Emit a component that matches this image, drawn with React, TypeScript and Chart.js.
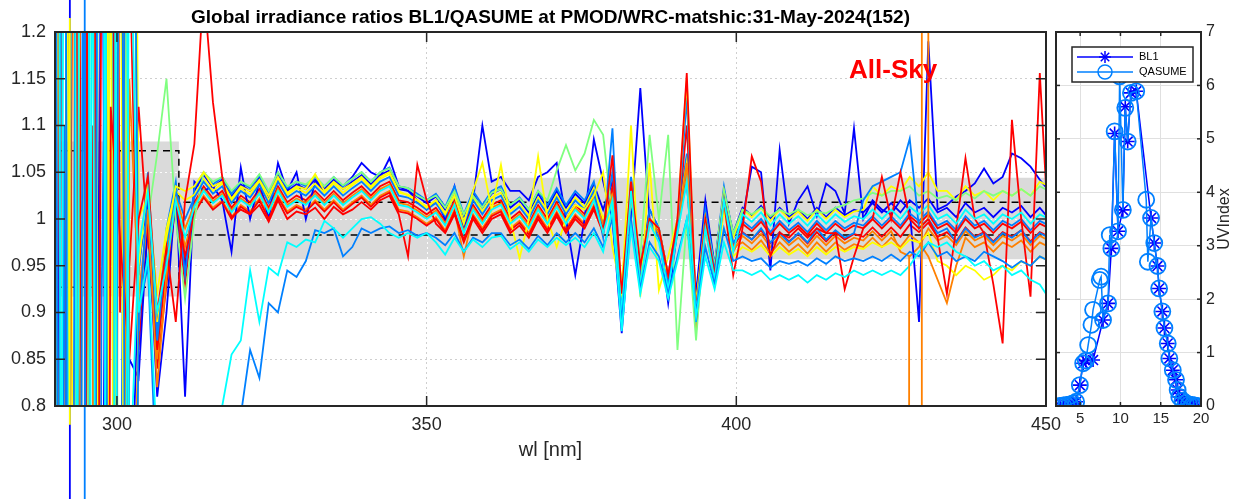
import React, { useEffect, useRef } from 'react';
import { Chart, registerables } from 'chart.js';
Chart.register(...registerables);

// ---------------- main panel data ----------------
const wl = [290,291.5,293,294.5,296,297.5,299,300.5,302,303.5,305,306.5,308,309.5,311,312.5,314,315.5,317,318.5,320,321.5,323,324.5,326,327.5,329,330.5,332,333.5,335,336.5,338,339.5,341,342.5,344,345.5,347,348.5,350,351.5,353,354.5,356,357.5,359,360.5,362,363.5,365,366.5,368,369.5,371,372.5,374,375.5,377,378.5,380,381.5,383,384.5,386,387.5,389,390.5,392,393.5,395,396.5,398,399.5,401,402.5,404,405.5,407,408.5,410,411.5,413,414.5,416,417.5,419,420.5,422,423.5,425,426.5,428,429.5,431,432.5,434,435.5,437,438.5,440,441.5,443,444.5,446,447.5,449,450.5];

const blue1 = [2.5,-1.5,3.2,-0.6,2.1,0.4,1.9,-0.2,0.85,0.83,1.0,0.81,
0.9,1.03,0.81,1.04,1.03,1.035,1.02,0.965,1.055,1.0,1.04,1.0,
1.06,1.03,1.05,1.0,1.04,1.03,1.04,1.035,1.045,1.06,1.05,1.045,
1.065,1.035,1.03,1.02,1.01,1.02,1.0,1.035,0.99,1.02,1.1,1.04,
1.045,1.03,1.03,1.02,1.045,1.05,1.06,1.0,0.94,1.0,1.085,1.04,
1.0,0.878,1.0,1.14,1.0,0.985,0.91,0.99,1.06,0.92,1.02,0.95,
1.02,0.97,1.0,1.056,1.05,0.945,1.074,0.995,1.02,1.035,1.003,1.038,
1.03,1.006,1.097,1.0,1.02,1.01,1.005,1.02,1.01,0.89,1.19,1.01,
1.015,1.024,1.03,1.038,1.054,1.038,1.045,1.07,1.065,1.056,1.042,1.03];

const blue2 = [-1.2,3.5,-0.8,2.6,-1.5,1.6,-0.4,2.8,0.6,0.95,1.02,0.86,
0.98,1.035,0.95,1.03,1.047,1.034,1.042,1.024,1.037,1.03,1.044,1.024,
1.047,1.03,1.037,1.032,1.042,1.032,1.042,1.032,1.04,1.047,1.037,1.047,
1.052,1.032,1.03,1.024,1.017,1.024,1.01,1.032,1.002,1.027,1.012,1.027,
1.032,1.012,1.02,1.007,1.027,1.012,1.03,1.012,1.027,1.017,1.037,1.01,
1.04,0.92,1.03,0.95,1.01,0.99,0.94,0.995,1.04,0.91,1.005,0.95,
1.03,0.985,1.012,1.004,1.014,1.0,1.012,1.002,1.01,1.0,1.012,1.002,
1.012,1.004,1.01,1.007,1.017,1.007,1.017,1.007,1.02,1.012,1.022,1.007,
1.012,1.002,1.017,1.007,1.012,1.002,1.012,1.007,1.014,1.002,1.012,1.0];

const azure1 = [-0.5,2.2,-3,1.4,-0.9,3.3,-1,1.8,-0.3,0.9,0.95,0.7,
0.6,0.55,0.5,0.55,0.6,0.65,0.7,0.75,0.79,0.86,0.83,0.91,
0.9,0.945,0.938,0.955,0.988,0.985,0.99,0.96,0.97,0.99,0.985,0.99,
0.992,0.985,0.988,0.982,0.985,0.98,0.972,0.985,0.965,0.98,0.975,0.985,
0.985,0.972,0.978,0.968,0.982,0.972,0.985,0.975,0.985,0.975,0.99,0.97,
1.0,0.89,1.0,0.925,0.975,0.96,0.92,0.96,1.0,0.9,0.97,0.93,
0.99,0.955,0.96,0.955,0.958,0.948,0.955,0.952,0.955,0.95,0.958,0.952,
0.96,0.955,0.958,0.955,0.96,0.955,0.962,0.955,0.965,0.96,0.975,0.96,
0.965,0.955,0.96,0.955,0.965,0.96,0.955,0.948,0.955,0.95,0.96,0.955];

const azure2 = [1.9,-2.5,0.7,3.9,-0.2,2.4,-1.7,0.5,2.0,0.88,1.035,0.87,
0.97,1.03,1.0,1.023,1.04,1.027,1.035,1.017,1.03,1.023,1.037,1.017,
1.04,1.023,1.03,1.025,1.035,1.025,1.035,1.025,1.033,1.04,1.03,1.04,
1.045,1.025,1.023,1.017,1.01,1.017,1.003,1.025,0.995,1.02,1.005,1.02,
1.025,1.005,1.013,1.0,1.02,1.005,1.023,1.005,1.02,1.01,1.03,0.98,
1.097,0.9,1.04,0.945,1.0,0.98,0.93,0.99,1.13,0.89,1.0,0.945,
1.02,0.975,0.985,0.978,0.99,0.975,0.985,0.975,0.985,0.975,0.99,0.978,
0.988,0.98,0.985,1.02,1.035,1.04,1.045,1.05,1.086,0.99,1.0,0.985,
0.99,0.975,0.99,0.98,0.985,0.975,0.985,0.98,0.988,0.975,0.985,0.98];

const azure3 = [-3.0,1.1,-0.6,2.4,-2.7,0.9,1.7,-2.0,1.9,0.94,1.05,0.88,
0.99,1.04,0.94,1.033,1.05,1.037,1.045,1.027,1.04,1.033,1.047,1.027,
1.05,1.033,1.04,1.035,1.045,1.035,1.045,1.035,1.043,1.05,1.04,1.05,
1.055,1.035,1.033,1.027,1.02,1.027,1.013,1.035,1.005,1.03,1.015,1.03,
1.035,1.015,1.023,1.01,1.03,1.015,1.033,1.015,1.03,1.02,1.04,0.99,
1.05,0.91,1.045,0.94,1.01,0.99,0.94,1.0,1.07,0.9,1.01,0.95,
1.035,0.98,0.998,0.99,1.0,0.986,0.998,0.988,0.996,0.986,0.998,0.988,
0.998,0.99,0.996,0.993,1.003,0.993,1.003,0.993,1.006,0.998,1.008,0.993,
0.998,0.988,1.003,0.993,0.998,0.988,0.998,0.993,1.0,0.988,0.998,0.993];

const cyan1 = [3.0,-0.7,2.0,-2.2,1.5,-1.1,3.6,-0.8,1.4,0.9,0.96,0.75,
0.7,0.68,0.65,0.7,0.72,0.75,0.8,0.855,0.87,0.945,0.89,0.948,
0.94,0.975,0.97,0.978,0.975,0.998,0.99,0.98,0.99,1.0,1.002,0.995,
0.985,0.98,0.985,0.98,0.985,0.975,0.962,0.98,0.965,0.978,0.97,0.98,
0.982,0.968,0.975,0.965,0.978,0.97,0.98,0.972,0.98,0.97,0.985,0.965,
1.01,0.88,0.99,0.92,0.97,0.955,0.915,0.955,1.0,0.895,0.96,0.925,
0.975,0.945,0.945,0.94,0.945,0.935,0.94,0.935,0.94,0.932,0.94,0.935,
0.942,0.938,0.945,0.94,0.945,0.94,0.945,0.94,0.95,0.965,0.975,0.97,
0.975,0.965,0.96,0.95,0.955,0.945,0.95,0.94,0.945,0.935,0.93,0.915];

const cyan2 = [-2.0,1.7,-1.0,2.9,0.3,1.9,-0.6,3.1,0.7,0.97,1.03,0.9,
0.95,1.02,0.98,1.013,1.03,1.017,1.025,1.007,1.02,1.013,1.027,1.007,
1.03,1.013,1.02,1.015,1.025,1.015,1.025,1.015,1.023,1.03,1.02,1.03,
1.035,1.015,1.013,1.007,1.0,1.007,0.993,1.015,0.985,1.01,0.995,1.01,
1.015,0.995,1.003,0.99,1.01,0.995,1.013,0.995,1.01,1.0,1.02,0.985,
1.02,0.9,1.03,0.93,0.995,0.975,0.925,0.985,1.04,0.9,0.99,0.935,
1.02,0.965,1.005,0.997,1.007,0.993,1.005,0.995,1.003,0.993,1.005,0.995,
1.005,0.997,1.003,1.0,1.01,1.0,1.01,1.0,1.013,1.005,1.015,1.0,
1.005,0.995,1.01,1.0,1.005,0.995,1.005,1.0,1.007,0.995,1.005,1.0];

const green1 = [1.3,-1.4,2.7,-0.4,1.8,-2.1,2.3,0.2,1.7,0.97,1.0,1.07,
1.15,1.0,0.915,1.0,1.05,1.04,1.045,1.03,1.04,1.035,1.048,1.03,
1.05,1.035,1.04,1.037,1.046,1.035,1.045,1.036,1.043,1.05,1.04,1.05,
1.054,1.035,1.033,1.025,1.02,1.025,1.012,1.03,1.005,1.025,1.012,1.028,
1.032,1.015,1.022,1.01,1.03,1.02,1.052,1.079,1.052,1.07,1.106,1.09,
1.0,0.93,1.02,0.96,1.09,1.0,1.09,0.86,1.0,0.87,1.0,0.95,
1.03,0.985,1.01,1.005,1.012,1.003,1.01,1.005,1.01,1.004,1.008,1.006,
1.012,1.015,1.02,1.022,1.028,1.025,1.03,1.03,1.035,1.025,1.03,1.022,
1.025,1.02,1.028,1.022,1.03,1.025,1.03,1.025,1.032,1.025,1.035,1.03];

const yellow1 = [-0.9,2.6,0.5,1.6,-1.8,3.5,0.1,1.5,-0.6,0.95,1.04,0.89,
0.98,1.035,1.03,1.035,1.05,1.035,1.04,1.022,1.035,1.03,1.042,1.025,
1.045,1.028,1.035,1.032,1.048,1.03,1.04,1.032,1.038,1.045,1.035,1.045,
1.05,1.03,1.025,1.02,1.012,1.02,1.005,1.025,0.995,1.03,1.06,1.01,
1.058,1.0,0.958,1.0,1.067,1.0,0.97,1.0,1.015,1.01,1.025,1.05,
0.97,0.92,1.1,0.917,1.06,0.924,0.96,1.0,1.15,0.9,1.0,0.93,
1.01,0.96,0.97,0.965,0.972,0.96,0.97,0.962,0.968,0.96,0.97,0.962,
0.97,0.965,0.97,0.968,0.975,0.97,0.975,0.968,0.978,0.975,0.985,0.955,
0.95,0.94,0.95,0.945,0.935,0.94,0.95,0.945,0.955,0.95,0.96,0.955];

const yellow2 = [0.6,3.0,-1.6,1.2,2.5,-0.3,1.4,-1.3,2.4,1.0,1.025,0.92,
0.99,1.03,1.02,1.026,1.043,1.03,1.038,1.02,1.033,1.026,1.04,1.02,
1.043,1.026,1.033,1.028,1.038,1.028,1.038,1.028,1.036,1.043,1.033,1.043,
1.048,1.028,1.026,1.02,1.013,1.02,1.006,1.028,0.998,1.023,1.008,1.023,
1.028,1.008,1.016,1.003,1.023,1.008,1.026,1.008,1.023,1.013,1.033,1.0,
1.03,0.93,1.04,0.95,1.0,0.99,0.94,0.995,1.06,0.91,1.0,0.945,
1.03,0.98,1.01,1.002,1.012,0.998,1.01,1.0,1.008,0.998,1.01,1.0,
1.01,1.002,1.008,1.01,1.035,1.025,1.035,1.03,1.045,1.035,1.05,1.03,
1.03,1.02,1.035,1.025,1.03,1.02,1.03,1.025,1.032,1.025,1.04,1.035];

const orange1 = [-1.6,0.9,2.1,-1.0,3.4,-0.7,2.6,-1.5,1.15,0.92,1.0,0.85,
0.96,1.02,0.97,1.008,1.025,1.012,1.02,1.002,1.015,1.008,1.022,1.002,
1.025,1.008,1.015,1.01,1.02,1.01,1.02,1.01,1.018,1.025,1.015,1.025,
1.03,1.01,1.008,1.002,0.995,1.002,0.988,1.01,0.96,1.005,0.99,1.005,
1.01,0.99,0.998,0.985,1.005,0.99,1.008,0.99,1.005,0.995,1.015,0.99,
1.02,0.91,1.03,0.935,0.995,0.98,0.93,0.985,1.05,0.88,0.99,0.935,
1.02,0.965,0.982,0.974,0.984,0.97,0.982,0.972,0.98,0.97,0.982,0.972,
0.982,0.974,0.98,0.977,0.987,0.977,0.987,0.965,0.96,0.97,0.99,0.977,
0.982,0.972,0.987,0.977,0.982,0.972,0.982,0.977,0.984,0.972,0.982,0.977];

const orange2 = [2.2,-0.3,1.5,-2.6,0.6,2.9,-0.9,1.6,0.4,0.9,1.01,0.82,
0.94,1.025,0.99,1.015,1.032,1.019,1.027,1.009,1.022,1.015,1.029,1.009,
1.032,1.015,1.022,1.017,1.027,1.017,1.027,1.017,1.025,1.032,1.022,1.032,
1.037,1.017,1.015,1.009,1.002,1.009,0.995,1.017,0.987,1.012,0.997,1.012,
1.017,0.997,1.005,0.992,1.012,0.997,1.015,0.997,1.012,1.002,1.022,0.995,
1.025,0.915,1.03,0.94,1.0,0.985,0.935,0.99,1.06,0.89,0.995,0.94,
1.02,0.97,0.975,0.967,0.977,0.963,0.975,0.965,0.973,0.963,0.975,0.965,
0.975,0.967,0.973,0.97,0.98,0.97,0.98,0.97,0.983,0.975,0.96,0.935,
0.91,0.95,0.98,0.97,0.975,0.965,0.975,0.97,0.977,0.965,0.975,0.97];

const red1 = [3.8,-1.2,1.9,-0.1,2.7,-1.9,1.12,0.98,0.85,1.0,1.045,0.9,
0.97,0.89,1.02,1.08,1.25,1.125,1.045,1.002,1.01,1.005,1.015,0.997,
1.02,1.0,1.008,1.005,1.012,1.0,1.013,1.005,1.01,1.018,1.01,1.02,
1.025,1.005,0.96,1.058,1.02,0.995,0.985,1.005,0.975,1.0,0.985,1.0,
1.005,0.985,0.993,0.98,1.0,0.985,1.003,0.985,1.0,0.99,1.01,0.985,
1.068,0.92,1.04,0.95,1.0,0.99,0.94,1.0,1.156,0.9,1.0,0.94,
1.02,0.94,0.99,1.067,1.04,0.96,0.985,0.98,0.99,0.98,0.99,0.985,
0.985,0.925,0.96,0.99,1.0,1.045,1.0,1.05,1.0,0.99,1.0,0.98,
0.92,0.99,1.065,1.0,0.985,0.93,0.867,1.106,1.0,0.917,1.156,0.975];

const red2 = [-0.4,2.0,-2.4,3.1,-0.8,1.3,2.2,-0.6,0.95,1.12,0.98,0.86,
0.95,1.02,0.96,1.006,1.023,1.01,1.018,1.0,1.013,1.006,1.02,1.0,
1.023,1.006,1.013,1.008,1.018,1.008,1.018,1.008,1.016,1.023,1.013,1.023,
1.028,1.008,1.006,1.0,0.993,1.0,0.986,1.008,0.978,1.003,0.988,1.003,
1.008,0.988,0.996,0.983,1.003,0.988,1.006,0.988,1.003,0.993,1.013,0.99,
1.035,0.91,1.035,0.94,1.0,0.985,0.935,0.99,1.1,0.9,1.0,0.94,
1.025,0.97,0.995,0.987,0.997,0.983,0.995,0.985,0.993,0.983,0.995,0.985,
0.995,0.987,0.993,0.99,1.0,0.99,1.0,0.99,1.003,0.995,1.005,0.99,
0.995,0.985,1.0,0.99,0.995,0.985,0.995,0.99,0.997,0.985,0.995,0.99];

const red3 = [1.6,-2.2,3.4,0.2,1.1,-1.4,2.9,0.9,1.3,0.86,0.99,0.84,
0.93,1.02,0.93,1.018,1.035,1.022,1.03,1.012,1.025,1.018,1.032,1.012,
1.035,1.018,1.025,1.02,1.03,1.02,1.03,1.02,1.028,1.035,1.025,1.035,
1.04,1.02,1.018,1.012,1.005,1.012,0.998,1.02,0.99,1.015,1.0,1.015,
1.02,1.0,1.008,0.995,1.015,1.0,1.018,1.0,1.015,1.005,1.025,0.995,
1.03,0.915,1.035,0.94,1.0,0.985,0.935,0.99,1.05,0.905,1.0,0.94,
1.025,0.97,0.986,0.978,0.988,0.974,0.986,0.976,0.984,0.974,0.986,0.976,
0.986,0.978,0.984,0.981,0.991,0.981,0.991,0.981,0.994,0.986,0.996,0.981,
0.986,0.976,0.991,0.981,0.986,0.976,0.986,0.981,0.988,0.976,0.986,0.981];

// orange series leaving the axes at 428-431 nm
const orangeJumpWl = [427.9, 428.1, 429.9, 430.0, 430.9, 431.0];
const orangeJumpVal = [0.96, -20, -20, 20, 20, 1.0];
// lines drawn past the axes (clipping off)
const outBlueWl = [292.4, 292.4];
const outBlueVal = [8, -8];
const outAzureWl = [294.8, 294.8];
const outAzureVal = [8, -8];
const outYellowWl = [292.4, 292.4];
const outYellowVal = [1.215, 0.78];

// tolerance band and limits
const bandWl = [290, 310, 310, 450.5];
const bandTop = [1.083, 1.083, 1.044, 1.044];
const bandBottom = [0.917, 0.917, 0.957, 0.957];
const limitTop = [1.073, 1.073, 1.018, 1.018];
const limitBottom = [0.927, 0.927, 0.983, 0.983];

const xTicksMain = [300, 350, 400, 450];
const yTicksMain = [0.8, 0.85, 0.9, 0.95, 1, 1.05, 1.1, 1.15, 1.2];

// ---------------- UV index panel data ----------------
const bl1Hours = [2.5,2.9,3.3,3.7,4.1,4.5,4.96,5.37,5.7,6.6,7.84,8.46,8.87,9.28,9.7,10.3,10.6,10.9,11.3,11.96,13.8,14.2,14.6,14.8,15.2,15.46,15.87,16.07,16.5,16.9,17.1,17.3,17.7,18.1,18.5,18.9,19.2,19.5];
const bl1Uv = [0.0,0.01,0.02,0.03,0.05,0.08,0.39,0.8,0.85,0.86,1.61,1.92,2.95,5.1,3.27,3.67,5.6,4.95,5.86,5.89,3.52,3.05,2.62,2.2,1.77,1.46,1.17,0.89,0.67,0.49,0.3,0.17,0.1,0.06,0.03,0.02,0.01,0.0];
const qasHours = [2.5,2.9,3.3,3.7,4.1,4.5,4.96,5.37,5.7,5.99,6.4,6.6,7.43,7.6,7.84,8.46,8.67,8.87,9.28,9.7,9.9,10.3,10.6,10.9,11.3,11.96,13.2,13.4,13.8,14.2,14.6,14.8,15.2,15.46,15.87,16.07,16.5,16.9,17.1,17.3,17.7,18.1,18.5,18.9,19.2,19.5];
const qasUv = [0.0,0.01,0.02,0.03,0.05,0.08,0.39,0.8,0.85,1.14,1.52,1.8,2.36,2.42,1.61,1.92,3.2,2.95,5.14,3.27,6.17,3.67,5.58,4.95,5.86,5.89,3.86,2.7,3.52,3.05,2.62,2.2,1.77,1.46,1.17,0.89,0.67,0.49,0.3,0.17,0.1,0.06,0.03,0.02,0.01,0.0];
const xTicksUv = [5, 10, 15, 20];
const yTicksUv = [0, 1, 2, 3, 4, 5, 6, 7];

const titleText = 'Global irradiance ratios BL1/QASUME at PMOD/WRC-matshic:31-May-2024(152)';
const FONT = '"Liberation Sans", Arial, Helvetica, sans-serif';
const INK = '#262626';

const C = { blue: '#0000ff', azure: '#0080ff', cyan: '#00ffff', green: '#80ff80', yellow: '#ffff00', orange: '#ff8000', red: '#ff0000' };

// drawing order: first = bottom
const mainSeries: [number[], string][] = [
  [blue2, C.blue], [red3, C.red], [orange1, C.orange], [blue1, C.blue], [azure3, C.azure],
  [yellow2, C.yellow], [red2, C.red], [green1, C.green], [orange2, C.orange], [azure2, C.azure],
  [yellow1, C.yellow], [red1, C.red], [cyan2, C.cyan], [azure1, C.azure], [cyan1, C.cyan],
];

const xy = (xs: number[], ys: number[]) => xs.map((x, i) => ({ x, y: ys[i] }));

function line(ctx: CanvasRenderingContext2D, x1: number, y1: number, x2: number, y2: number) {
  ctx.beginPath(); ctx.moveTo(x1, y1); ctx.lineTo(x2, y2); ctx.stroke();
}

export default function App() {
  const mainRef = useRef<HTMLCanvasElement>(null);
  const uvRef = useRef<HTMLCanvasElement>(null);

  useEffect(() => {
    const datasets: any[] = [];
    datasets.push({ data: xy(bandWl, bandTop), borderWidth: 0, pointRadius: 0, backgroundColor: '#dadada', fill: '+1', order: 1000 });
    datasets.push({ data: xy(bandWl, bandBottom), borderWidth: 0, pointRadius: 0, fill: false, order: 999 });
    datasets.push({ data: xy(bandWl, limitTop), borderColor: '#000', borderWidth: 1.5, borderDash: [7, 5], pointRadius: 0, fill: false, order: 998 });
    datasets.push({ data: xy(bandWl, limitBottom), borderColor: '#000', borderWidth: 1.5, borderDash: [7, 5], pointRadius: 0, fill: false, order: 997 });
    mainSeries.forEach(([vals, col], k) => {
      datasets.push({ data: xy(wl, vals), borderColor: col, borderWidth: 1.8, pointRadius: 0, fill: false, order: 500 - k });
    });
    datasets.push({ data: xy(orangeJumpWl, orangeJumpVal), borderColor: C.orange, borderWidth: 1.8, pointRadius: 0, fill: false, order: 10 });
    datasets.push({ data: xy(outBlueWl, outBlueVal), borderColor: C.blue, borderWidth: 1.8, pointRadius: 0, fill: false, clip: false, order: 3 });
    datasets.push({ data: xy(outAzureWl, outAzureVal), borderColor: C.azure, borderWidth: 1.8, pointRadius: 0, fill: false, clip: false, order: 2 });
    datasets.push({ data: xy(outYellowWl, outYellowVal), borderColor: C.yellow, borderWidth: 1.8, pointRadius: 0, fill: false, clip: false, order: 1 });

    const mainDecor = {
      id: 'mainDecor',
      afterDatasetDraw(chart: any, args: any) {
        if (args.index !== 0) return;
        const { ctx, chartArea: a, scales: { x, y } } = chart;
        ctx.save();
        ctx.beginPath();
        bandWl.forEach((w, i) => {
          const px = x.getPixelForValue(w), py = y.getPixelForValue(bandTop[i]);
          if (i === 0) ctx.moveTo(px, py); else ctx.lineTo(px, py);
        });
        for (let i = bandWl.length - 1; i >= 0; i--) ctx.lineTo(x.getPixelForValue(bandWl[i]), y.getPixelForValue(bandBottom[i]));
        ctx.closePath();
        ctx.clip();
        ctx.strokeStyle = 'rgba(255,255,255,0.9)';
        ctx.lineWidth = 1;
        ctx.setLineDash([2, 3]);
        yTicksMain.forEach(v => { const py = Math.round(y.getPixelForValue(v)) + 0.5; line(ctx, a.left, py, a.right, py); });
        xTicksMain.forEach(v => { const px = Math.round(x.getPixelForValue(v)) + 0.5; line(ctx, px, a.top, px, a.bottom); });
        ctx.restore();
      },
      afterDraw(chart: any) {
        const { ctx, chartArea: a, scales: { x, y } } = chart;
        ctx.save();
        ctx.strokeStyle = INK;
        ctx.lineWidth = 1.5;
        ctx.setLineDash([]);
        yTicksMain.forEach(v => {
          const py = y.getPixelForValue(v);
          line(ctx, a.left, py, a.left + 10, py);
          line(ctx, a.right - 10, py, a.right, py);
        });
        xTicksMain.forEach(v => {
          const px = x.getPixelForValue(v);
          line(ctx, px, a.bottom, px, a.bottom - 10);
          line(ctx, px, a.top, px, a.top + 10);
        });
        ctx.lineWidth = 2;
        ctx.strokeRect(a.left, a.top, a.right - a.left, a.bottom - a.top);
        ctx.fillStyle = '#000';
        ctx.font = `bold 19px ${FONT}`;
        ctx.textAlign = 'center';
        ctx.textBaseline = 'middle';
        ctx.fillText(titleText, (a.left + a.right) / 2, 18);
        ctx.fillStyle = INK;
        ctx.font = `20px ${FONT}`;
        ctx.fillText('wl [nm]', (a.left + a.right) / 2, 450);
        ctx.fillStyle = '#ff0000';
        ctx.font = `bold 26px ${FONT}`;
        ctx.textAlign = 'left';
        ctx.textBaseline = 'alphabetic';
        ctx.fillText('All-Sky', x.getPixelForValue(418.2), y.getPixelForValue(1.151));
        ctx.restore();
      },
    };

    const mainChart = new Chart(mainRef.current as HTMLCanvasElement, {
      type: 'line',
      data: { datasets },
      options: {
        animation: false,
        responsive: false,
        devicePixelRatio: 1,
        events: [],
        layout: { padding: { left: 0, top: 32, right: 202, bottom: 0 } },
        elements: { line: { tension: 0 } },
        plugins: { legend: { display: false }, tooltip: { enabled: false }, title: { display: false } },
        scales: {
          x: {
            type: 'linear', min: 290, max: 450,
            afterBuildTicks: (s: any) => { s.ticks = xTicksMain.map(v => ({ value: v })); },
            afterFit: (s: any) => { s.height = 93; },
            grid: { color: '#cfcfcf', lineWidth: 1, drawTicks: false },
            border: { display: false, dash: [2, 3] },
            ticks: { color: INK, font: { family: FONT, size: 18 }, padding: 8, maxRotation: 0, autoSkip: false, callback: (v: any) => String(v) },
          },
          y: {
            type: 'linear', min: 0.8, max: 1.2,
            afterBuildTicks: (s: any) => { s.ticks = yTicksMain.map(v => ({ value: v })); },
            afterFit: (s: any) => { s.width = 55; },
            grid: { color: '#cfcfcf', lineWidth: 1, drawTicks: false },
            border: { display: false, dash: [2, 3] },
            ticks: { color: INK, font: { family: FONT, size: 18 }, padding: 9, autoSkip: false, callback: (v: any) => String(Number(Number(v).toFixed(2))) },
          },
        },
      },
      plugins: [mainDecor],
    } as any);

    const uvDecor = {
      id: 'uvDecor',
      afterDraw(chart: any) {
        const { ctx, chartArea: a, scales: { x, y } } = chart;
        ctx.save();
        ctx.strokeStyle = INK;
        ctx.lineWidth = 1.5;
        yTicksUv.forEach(v => {
          const py = y.getPixelForValue(v);
          line(ctx, a.left, py, a.left + 4, py);
          line(ctx, a.right - 4, py, a.right, py);
        });
        xTicksUv.forEach(v => {
          const px = x.getPixelForValue(v);
          line(ctx, px, a.bottom, px, a.bottom - 4);
          line(ctx, px, a.top, px, a.top + 4);
        });
        ctx.lineWidth = 2;
        ctx.strokeRect(a.left, a.top, a.right - a.left, a.bottom - a.top);
        // legend
        const lx = a.left + 16, ly = a.top + 15, lw = 121, lh = 35;
        ctx.fillStyle = '#fff';
        ctx.fillRect(lx, ly, lw, lh);
        ctx.lineWidth = 1.5;
        ctx.strokeStyle = INK;
        ctx.strokeRect(lx, ly, lw, lh);
        const r1 = ly + 10, r2 = ly + 25;
        ctx.lineWidth = 1.5;
        ctx.strokeStyle = C.blue;
        line(ctx, lx + 5, r1, lx + 61, r1);
        const sx = lx + 33;
        for (let k = 0; k < 4; k++) {
          const ang = (k * Math.PI) / 4;
          line(ctx, sx - 6 * Math.cos(ang), r1 - 6 * Math.sin(ang), sx + 6 * Math.cos(ang), r1 + 6 * Math.sin(ang));
        }
        ctx.strokeStyle = C.azure;
        line(ctx, lx + 5, r2, lx + 61, r2);
        ctx.beginPath();
        ctx.arc(sx, r2, 7, 0, Math.PI * 2);
        ctx.stroke();
        ctx.fillStyle = '#000';
        ctx.font = `11px ${FONT}`;
        ctx.textAlign = 'left';
        ctx.textBaseline = 'middle';
        ctx.fillText('BL1', lx + 67, r1);
        ctx.fillText('QASUME', lx + 67, r2);
        // y label
        ctx.save();
        ctx.translate(1225, (a.top + a.bottom) / 2);
        ctx.rotate(-Math.PI / 2);
        ctx.fillStyle = INK;
        ctx.font = `16px ${FONT}`;
        ctx.textAlign = 'center';
        ctx.textBaseline = 'middle';
        ctx.fillText('UVIndex', 0, 0);
        ctx.restore();
        ctx.restore();
      },
    };

    const uvChart = new Chart(uvRef.current as HTMLCanvasElement, {
      type: 'line',
      data: {
        datasets: [
          { label: 'BL1', data: xy(bl1Hours, bl1Uv), borderColor: C.blue, borderWidth: 1.5, pointStyle: 'star', pointRadius: 7, pointBorderColor: C.blue, pointBorderWidth: 1.6, pointBackgroundColor: C.blue, fill: false, order: 1 },
          { label: 'QASUME', data: xy(qasHours, qasUv), borderColor: C.azure, borderWidth: 1.5, pointStyle: 'circle', pointRadius: 8, pointBorderColor: C.azure, pointBorderWidth: 1.8, pointBackgroundColor: 'rgba(0,0,0,0)', fill: false, order: 0 },
        ],
      },
      options: {
        animation: false,
        responsive: false,
        devicePixelRatio: 1,
        events: [],
        layout: { padding: { left: 1056, top: 32, right: 0, bottom: 0 } },
        elements: { line: { tension: 0 } },
        plugins: { legend: { display: false }, tooltip: { enabled: false } },
        scales: {
          x: {
            type: 'linear', min: 2, max: 20,
            afterBuildTicks: (s: any) => { s.ticks = xTicksUv.map(v => ({ value: v })); },
            afterFit: (s: any) => { s.height = 93; },
            grid: { color: '#e0e0e0', lineWidth: 1, drawTicks: false },
            border: { display: false },
            ticks: { color: INK, font: { family: FONT, size: 15 }, padding: 4, maxRotation: 0, autoSkip: false },
          },
          y: {
            type: 'linear', position: 'right', min: 0, max: 7,
            afterBuildTicks: (s: any) => { s.ticks = yTicksUv.map(v => ({ value: v })); },
            afterFit: (s: any) => { s.width = 47; },
            grid: { color: '#e0e0e0', lineWidth: 1, drawTicks: false },
            border: { display: false },
            ticks: { color: INK, font: { family: FONT, size: 16 }, padding: 5, autoSkip: false },
          },
        },
      },
      plugins: [uvDecor],
    } as any);

    return () => { mainChart.destroy(); uvChart.destroy(); };
  }, []);

  return (
    <div style={{ position: 'fixed', left: 0, top: 0, width: 1248, height: 499, background: '#fff' }}>
      <canvas ref={mainRef} width={1248} height={499} style={{ position: 'absolute', left: 0, top: 0, width: 1248, height: 499 }} />
      <canvas ref={uvRef} width={1248} height={499} style={{ position: 'absolute', left: 0, top: 0, width: 1248, height: 499 }} />
    </div>
  );
}
